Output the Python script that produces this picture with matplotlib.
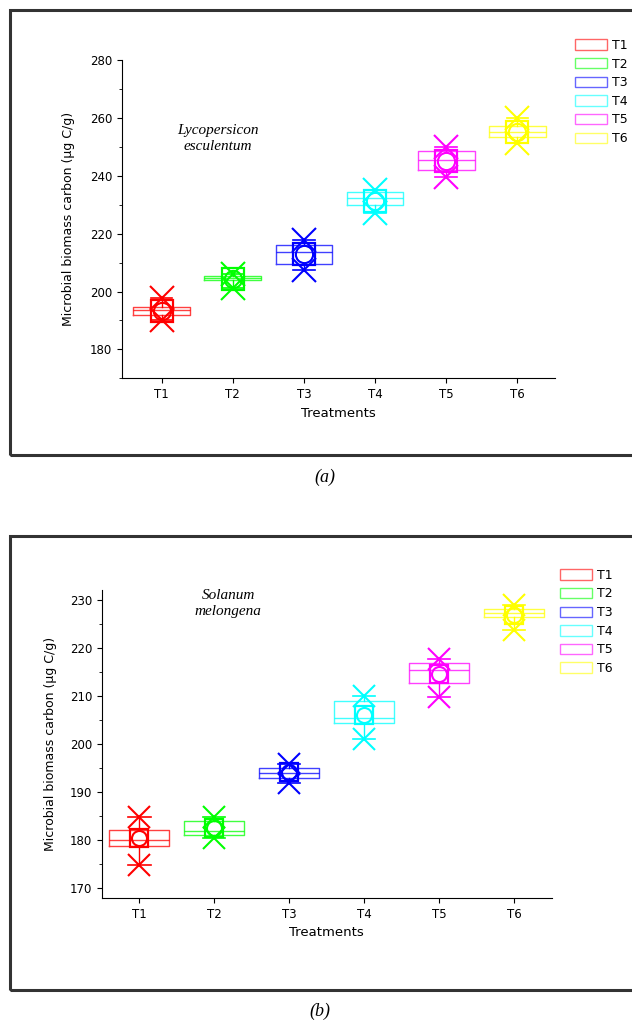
import numpy as np
import matplotlib
matplotlib.use("Agg")
import matplotlib.pyplot as plt
from matplotlib.patches import Patch, Rectangle

treatments = ["T1", "T2", "T3", "T4", "T5", "T6"]
colors = ["#ff0000", "#00ff00", "#0000ff", "#00ffff", "#ff00ff", "#ffff00"]

# panel (a) Lycopersicon esculentum
a_q1 = [192.0, 203.9, 209.7, 229.8, 242.2, 253.4]
a_q3 = [194.8, 205.3, 216.0, 234.6, 248.5, 257.2]
a_med = [193.5, 204.6, 213.6, 232.5, 245.7, 255.3]
a_mean = [193.4, 204.5, 213.0, 231.3, 245.3, 255.4]
a_min = [190.0, 201.4, 207.6, 227.3, 239.5, 251.4]
a_max = [197.6, 206.2, 218.0, 235.3, 250.0, 260.0]

# panel (b) Solanum melongena
b_q1 = [178.8, 181.0, 192.9, 204.5, 212.7, 226.5]
b_q3 = [182.1, 184.0, 195.0, 209.0, 216.9, 228.1]
b_med = [180.0, 181.9, 194.0, 205.5, 215.4, 227.3]
b_mean = [180.5, 182.6, 194.1, 206.0, 214.6, 226.8]
b_min = [174.9, 180.4, 191.9, 201.0, 209.9, 223.8]
b_max = [184.9, 184.8, 195.8, 210.0, 217.7, 229.0]


def draw_panel(ax, q1, q3, med, mean, lo, hi, msize):
    pos = np.arange(1, len(treatments) + 1)
    for i, c in enumerate(colors):
        st = [dict(med=med[i], q1=q1[i], q3=q3[i], whislo=lo[i], whishi=hi[i],
                   mean=mean[i], fliers=[])]
        ax.bxp(st, positions=[pos[i]], widths=0.8, capwidths=0.3,
               showmeans=True, showfliers=False, patch_artist=False,
               boxprops=dict(color=c, lw=1.0, alpha=0.75),
               medianprops=dict(color=c, lw=1.0, alpha=0.75),
               whiskerprops=dict(color=c, lw=1.0),
               capprops=dict(color=c, lw=1.2),
               meanprops=dict(marker="s", markerfacecolor="none",
                              markeredgecolor=c, markersize=msize, mew=1.6))
        ax.plot([pos[i], pos[i]], [lo[i], hi[i]], ls="none", marker="x",
                color=c, markersize=msize * 1.15, mew=1.5)
        ax.plot(pos[i], mean[i], ls="none", marker="o", markerfacecolor="none",
                markeredgecolor=c, markersize=msize * 0.8, mew=1.5)
    ax.set_xticks(pos)
    ax.set_xticklabels(treatments, fontsize=8.5)
    ax.spines["top"].set_visible(False)
    ax.spines["right"].set_visible(False)
    ax.tick_params(direction="out", labelsize=8.5)
    ax.tick_params(which="minor", direction="out", length=2.5)
    ax.set_xlabel("Treatments", fontsize=9.5)
    ax.set_ylabel("Microbial biomass carbon (\u03bcg C/g)", fontsize=9)
    handles = [Patch(facecolor="none", edgecolor=c, lw=1.0, alpha=0.6) for c in colors]
    return handles


fig = plt.figure(figsize=(6.32, 10.25), dpi=100)

# outer frames
fig.patches.append(Rectangle((0.016, 0.556), 1.2, 0.434, transform=fig.transFigure,
                             fill=False, lw=2.2, edgecolor="#333333"))
fig.patches.append(Rectangle((0.016, 0.034), 1.2, 0.443, transform=fig.transFigure,
                             fill=False, lw=2.2, edgecolor="#333333"))

ax1 = fig.add_axes([0.193, 0.631, 0.685, 0.310])
h = draw_panel(ax1, a_q1, a_q3, a_med, a_mean, a_min, a_max, 15.5)
ax1.set_xlim(0.44, 6.53)
ax1.set_ylim(170, 280)
ax1.set_yticks(np.arange(180, 281, 20))
ax1.set_yticks(np.arange(170, 281, 10), minor=True)
ax1.text(0.222, 0.756, "Lycopersicon\nesculentum", transform=ax1.transAxes,
         ha="center", va="center", fontsize=11, style="italic",
         family="Liberation Serif", linespacing=1.3)
ax1.legend(h, treatments, loc="upper left", bbox_to_anchor=(0.892, 0.973),
           bbox_transform=fig.transFigure, frameon=False, fontsize=9,
           handlelength=2.6, handleheight=0.9, labelspacing=0.45, handletextpad=0.4)
ax1.yaxis.set_label_coords(-0.108, 0.5)

ax2 = fig.add_axes([0.161, 0.124, 0.712, 0.300])
h = draw_panel(ax2, b_q1, b_q3, b_med, b_mean, b_min, b_max, 13.5)
ax2.set_xlim(0.5, 6.5)
ax2.set_ylim(168, 232)
ax2.set_yticks(np.arange(170, 231, 10))
ax2.set_yticks(np.arange(170, 232, 5), minor=True)
ax2.text(0.281, 0.957, "Solanum\nmelongena", transform=ax2.transAxes,
         ha="center", va="center", fontsize=11, style="italic",
         family="Liberation Serif", linespacing=1.3)
ax2.legend(h, treatments, loc="upper left", bbox_to_anchor=(0.868, 0.456),
           bbox_transform=fig.transFigure, frameon=False, fontsize=9,
           handlelength=2.6, handleheight=0.9, labelspacing=0.45, handletextpad=0.4)
ax2.yaxis.set_label_coords(-0.1, 0.5)

fig.text(0.514, 0.534, "(a)", ha="center", va="center", fontsize=13,
         style="italic", family="Liberation Serif")
fig.text(0.506, 0.013, "(b)", ha="center", va="center", fontsize=13,
         style="italic", family="Liberation Serif")

fig.savefig("out.png", dpi=100)
